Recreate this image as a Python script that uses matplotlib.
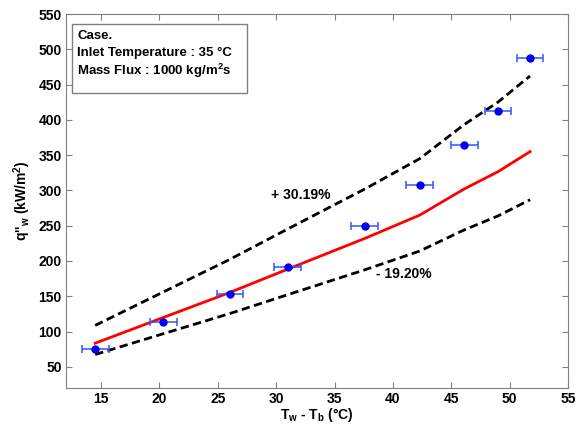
import matplotlib
matplotlib.use("Agg")
import matplotlib.pyplot as plt
from matplotlib.patches import Rectangle

# Experimental data
exp_dT = [14.5, 20.35, 26.05, 31.0, 37.6, 42.3, 46.1, 49.0, 51.75]
exp_q = [75, 113, 153.5, 192, 249, 308, 364.5, 412.5, 488]
exp_dT_err = [1.15] * 9

# Correlation and bounds
corr_q = [83.5, 120, 155.5, 188.5, 232, 265, 302, 326.5, 355]
upper_q = [108.7, 156.2, 202.4, 245.4, 302, 345, 393.2, 425.1, 462.2]
lower_q = [67.5, 97, 125.6, 152.3, 187.5, 214.1, 244, 263.8, 286.8]

xticks = [15, 20, 25, 30, 35, 40, 45, 50, 55]
yticks = [50, 100, 150, 200, 250, 300, 350, 400, 450, 500, 550]

plt.rcParams['font.family'] = ['Liberation Sans', 'DejaVu Sans']
plt.rcParams['font.weight'] = 'bold'
plt.rcParams['mathtext.fontset'] = 'custom'
plt.rcParams['mathtext.rm'] = 'Liberation Sans:bold'
plt.rcParams['mathtext.it'] = 'Liberation Sans:bold'
plt.rcParams['mathtext.bf'] = 'Liberation Sans:bold'
plt.rcParams['mathtext.default'] = 'rm'

fig = plt.figure(figsize=(5.84, 4.24), dpi=100)
ax = fig.add_axes([66/584, 1-388/424, (568-66)/584, (388-14)/424])

ax.plot(exp_dT, upper_q, color='black', lw=2, dashes=(3, 1.6))
ax.plot(exp_dT, lower_q, color='black', lw=2, dashes=(3, 1.6))
ax.plot(exp_dT, corr_q, color='red', lw=2)
ax.errorbar(exp_dT, exp_q, xerr=exp_dT_err, fmt='none', ecolor='#3355ff',
            elinewidth=1.1, capsize=3, capthick=1.1)
ax.plot(exp_dT, exp_q, 'o', color='#0000ee', ms=5)

ax.set_xlim(12, 55)
ax.set_ylim(20, 550)
ax.set_xticks(xticks)
ax.set_yticks(yticks)
ax.tick_params(direction='in', top=True, right=True, length=4, color='#808080',
               labelsize=10, pad=3)
for lab in ax.get_xticklabels() + ax.get_yticklabels():
    lab.set_fontweight('bold')
for s in ax.spines.values():
    s.set_color('#808080')
    s.set_linewidth(0.8)

ax.set_xlabel(r'T$_{w}$ - T$_{b}$ (°C)', fontsize=10, fontweight='bold', labelpad=0)
ax.set_ylabel(r"q''$_{w}$ (kW/m$^{2}$)", fontsize=10, fontweight='bold', labelpad=4)

ax.text(32.1, 294, '+ 30.19%', fontsize=10, fontweight='bold', ha='center', va='center')
ax.text(40.9, 182, '- 19.20%', fontsize=10, fontweight='bold', ha='center', va='center')

# Info box
box = Rectangle((72/584, 1-93/424), (247-72)/584, (93-24)/424, transform=fig.transFigure,
                fill=True, facecolor='white', edgecolor='#808080', lw=1, zorder=5)
fig.patches.append(box)
lines = ['Case.', 'Inlet Temperature : 35 °C', r'Mass Flux : 1000 kg/m$^{2}$s']
ys = [36, 53, 71]
for t, yy in zip(lines, ys):
    fig.text(77/584, 1-yy/424, t, fontsize=9.5, fontweight='bold', ha='left', va='center', zorder=6)

fig.savefig('out.png', dpi=100)
